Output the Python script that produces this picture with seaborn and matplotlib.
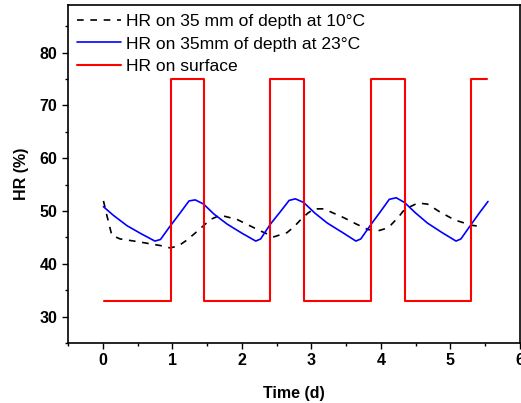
import numpy as np
import pandas as pd
import matplotlib
matplotlib.use("Agg")
import matplotlib.pyplot as plt
import seaborn as sns
from matplotlib.ticker import MultipleLocator

sns.set_theme(style="ticks")
plt.rcParams['font.family'] = ['Liberation Sans', 'DejaVu Sans']
plt.rcParams['text.color'] = 'black'
plt.rcParams['axes.labelcolor'] = 'black'
plt.rcParams['xtick.color'] = 'black'
plt.rcParams['ytick.color'] = 'black'

# HR on 35 mm depth at 10 C (dashed black)
t10 = [0.01, 0.06, 0.13, 0.25, 0.45, 0.63, 0.85, 0.97, 1.09, 1.20, 1.31, 1.43, 1.55, 1.69, 1.93,
       2.10, 2.27, 2.46, 2.65, 2.75, 2.85, 2.95, 3.04, 3.18, 3.47, 3.65, 3.81, 3.95, 4.05, 4.14,
       4.25, 4.34, 4.53, 4.67, 4.85, 5.06, 5.30, 5.47]
hr10 = [51.9, 49.1, 45.4, 44.7, 44.3, 43.9, 43.4, 43.0, 43.4, 44.4, 45.6, 47.0, 48.4, 49.2, 48.4,
        47.3, 46.2, 45.1, 45.9, 47.0, 48.4, 49.6, 50.4, 50.4, 48.7, 47.5, 46.5, 46.2, 46.6, 47.3,
        48.8, 50.3, 51.5, 51.3, 49.8, 48.3, 47.3, 47.0]

# HR on 35 mm depth at 23 C (blue)
t23 = [0.01, 0.15, 0.35, 0.55, 0.75, 0.83, 0.95, 1.10, 1.24, 1.33, 1.45, 1.60, 1.79, 2.00, 2.20,
       2.27, 2.41, 2.55, 2.68, 2.77, 2.89, 3.05, 3.23, 3.45, 3.64, 3.71, 3.86, 4.00, 4.12, 4.22,
       4.34, 4.50, 4.67, 4.88, 5.08, 5.15, 5.30, 5.42, 5.54]
hr23 = [50.8, 49.2, 47.2, 45.7, 44.3, 44.6, 46.8, 49.4, 51.9, 52.1, 51.3, 49.4, 47.5, 45.8, 44.3,
        44.7, 47.5, 49.8, 52.0, 52.3, 51.6, 49.6, 47.7, 45.9, 44.3, 44.7, 47.5, 50.0, 52.2, 52.5,
        51.6, 49.6, 47.7, 45.9, 44.3, 44.7, 47.5, 49.7, 51.8]

# HR on surface (red square wave)
ts = [0.02, 0.98, 1.46, 2.41, 2.90, 3.86, 4.34, 5.30, 5.53]
hrs = [33, 75, 33, 75, 33, 75, 33, 75, 75]

labels = ["HR on 35 mm of depth at 10°C", "HR on 35mm of depth at 23°C", "HR on surface"]

fig = plt.figure(figsize=(5.21, 4.03), dpi=100)
ax = fig.add_axes([68/521, 1 - 343/403, (520 - 68)/521, (343 - 5)/403])

sns.lineplot(x=t10, y=hr10, ax=ax, color="black", lw=1.2, linestyle=(0, (4, 4)),
             estimator=None, sort=False, label=labels[0])
sns.lineplot(x=t23, y=hr23, ax=ax, color="blue", lw=1.2,
             estimator=None, sort=False, label=labels[1])
sns.lineplot(x=ts, y=hrs, ax=ax, color="red", lw=1.5, drawstyle="steps-post",
             estimator=None, sort=False, label=labels[2])

ax.set_xlim(-0.5, 6)
ax.set_ylim(25, 89)
ax.xaxis.set_major_locator(MultipleLocator(1))
ax.xaxis.set_minor_locator(MultipleLocator(0.5))
ax.yaxis.set_minor_locator(MultipleLocator(5))
ax.set_yticks([30, 40, 50, 60, 70, 80])
ax.tick_params(which='major', direction='out', length=4, width=1, labelsize=11.5, colors='black')
ax.tick_params(which='minor', direction='out', length=2.5, width=1, colors='black')
for lab in ax.get_xticklabels() + ax.get_yticklabels():
    lab.set_fontweight('bold')
for s in ax.spines.values():
    s.set_linewidth(1.2)
    s.set_color('black')
    s.set_visible(True)

ax.set_xlabel("Time (d)", fontsize=11.5, fontweight='bold', labelpad=13, color='black')
ax.set_ylabel("HR (%)", fontsize=11.5, fontweight='bold', labelpad=8, color='black')

leg = ax.legend(loc='upper left', frameon=False, fontsize=12.6, handlelength=2.5,
                handletextpad=0.32, labelspacing=0.42, borderaxespad=0.1,
                bbox_to_anchor=(0.0, 1.0))
for txt in leg.get_texts():
    txt.set_color('black')

fig.savefig("out.png", dpi=100)
